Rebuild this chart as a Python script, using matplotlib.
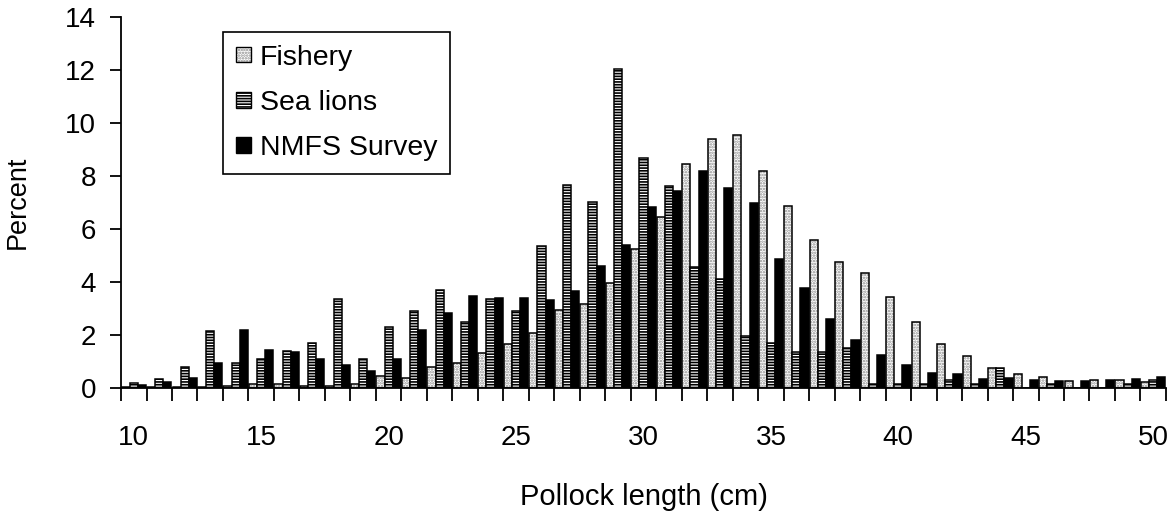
import numpy as np
import matplotlib
matplotlib.use("Agg")
import matplotlib.pyplot as plt
from matplotlib.patches import Patch
from matplotlib.legend_handler import HandlerTuple

# === Data (percent of fish at each length) ===
lengths = np.arange(10, 51)

fishery = [0.02, 0.05, 0.05, 0.03, 0.08, 0.14, 0.14, 0.08, 0.09, 0.15,
           0.44, 0.38, 0.81, 0.96, 1.31, 1.67, 2.09, 2.93, 3.17, 3.95,
           5.24, 6.45, 8.47, 9.40, 9.56, 8.20, 6.86, 5.57, 4.74, 4.33,
           3.44, 2.49, 1.65, 1.21, 0.77, 0.53, 0.43, 0.28, 0.31, 0.29,
           0.23]

sea_lions = [0.19, 0.34, 0.78, 2.16, 0.94, 1.09, 1.40, 1.71, 3.37, 1.09,
             2.30, 2.92, 3.69, 2.48, 3.37, 2.92, 5.35, 7.65, 7.03, 12.05,
             8.68, 7.62, 4.57, 4.11, 1.95, 1.69, 1.37, 1.37, 1.52, 0.16,
             0.15, 0.14, 0.29, 0.14, 0.75, 0.0, 0.16, 0.0, 0.0, 0.14,
             0.29]

survey = [0.13, 0.23, 0.36, 0.94, 2.18, 1.42, 1.36, 1.11, 0.86, 0.64,
          1.09, 2.18, 2.82, 3.47, 3.38, 3.38, 3.31, 3.67, 4.59, 5.41,
          6.84, 7.42, 8.19, 7.56, 6.98, 4.88, 3.77, 2.60, 1.80, 1.23,
          0.86, 0.57, 0.54, 0.35, 0.38, 0.31, 0.28, 0.28, 0.29, 0.35,
          0.40]

labels = ["Fishery", "Sea lions", "NMFS Survey"]

plt.rcParams['font.family'] = ['Liberation Sans', 'DejaVu Sans']
plt.rcParams['hatch.linewidth'] = 1.2

fig = plt.figure(figsize=(11.75, 5.12), dpi=100)
ax = fig.add_axes([0.103, 0.2422, 0.8893, 0.7246])

w = 0.32
styles = [
    dict(face="white", hatch="......", hcol="#8c8c8c"),
    dict(face="white", hatch="------", hcol="black"),
    dict(face="black", hatch=None, hcol="black"),
]
series = [fishery, sea_lions, survey]
handles = []
for i, (vals, st) in enumerate(zip(series, styles)):
    xpos = lengths + (i - 1) * w
    # fill layer (hatch colour comes from the edge colour)
    ax.bar(xpos, vals, width=w, color=st["face"], hatch=st["hatch"],
           edgecolor=st["hcol"], linewidth=0)
    # black outline on top
    ax.bar(xpos, vals, width=w, fill=False, edgecolor="black", linewidth=1.1)
    p1 = Patch(facecolor=st["face"], hatch=st["hatch"], edgecolor=st["hcol"], linewidth=0)
    p2 = Patch(fill=False, edgecolor="black", linewidth=1.0)
    handles.append((p1, p2))

ax.set_xlim(9.5, 50.5)
ax.set_ylim(0, 14)
ax.set_yticks(np.arange(0, 15, 2))
ax.set_xticks(np.arange(9.5, 51, 1))
ax.set_xticklabels([])
ax.set_xticks(np.arange(10, 51, 5), minor=True)
ax.set_xticklabels([str(v) for v in range(10, 51, 5)], minor=True)
ax.tick_params(axis='x', which='major', direction='out', length=9, width=1.3)
ax.tick_params(axis='x', which='minor', length=0, pad=27, labelsize=20)
ax.tick_params(axis='y', direction='out', length=8, width=1.3, pad=10, labelsize=20)

for s in ['top', 'right']:
    ax.spines[s].set_visible(False)
for s in ['left', 'bottom']:
    ax.spines[s].set_linewidth(1.3)

ax.set_xlabel("Pollock length (cm)", fontsize=21)
ax.xaxis.set_label_coords(0.5, -0.255)
ax.set_ylabel("Percent", fontsize=19.5)
ax.yaxis.set_label_coords(-0.086, 0.5)

leg = ax.legend(handles, labels, handler_map={tuple: HandlerTuple(ndivide=1, pad=0)},
                loc='upper left', bbox_to_anchor=(0.0976, 0.96), borderaxespad=0,
                fontsize=20.5, fancybox=False, framealpha=1, edgecolor='black',
                handlelength=0.55, handleheight=0.47, handletextpad=0.3,
                labelspacing=0.68, borderpad=0.45)
leg.get_frame().set_linewidth(1.2)

fig.savefig("out.png", dpi=100)
